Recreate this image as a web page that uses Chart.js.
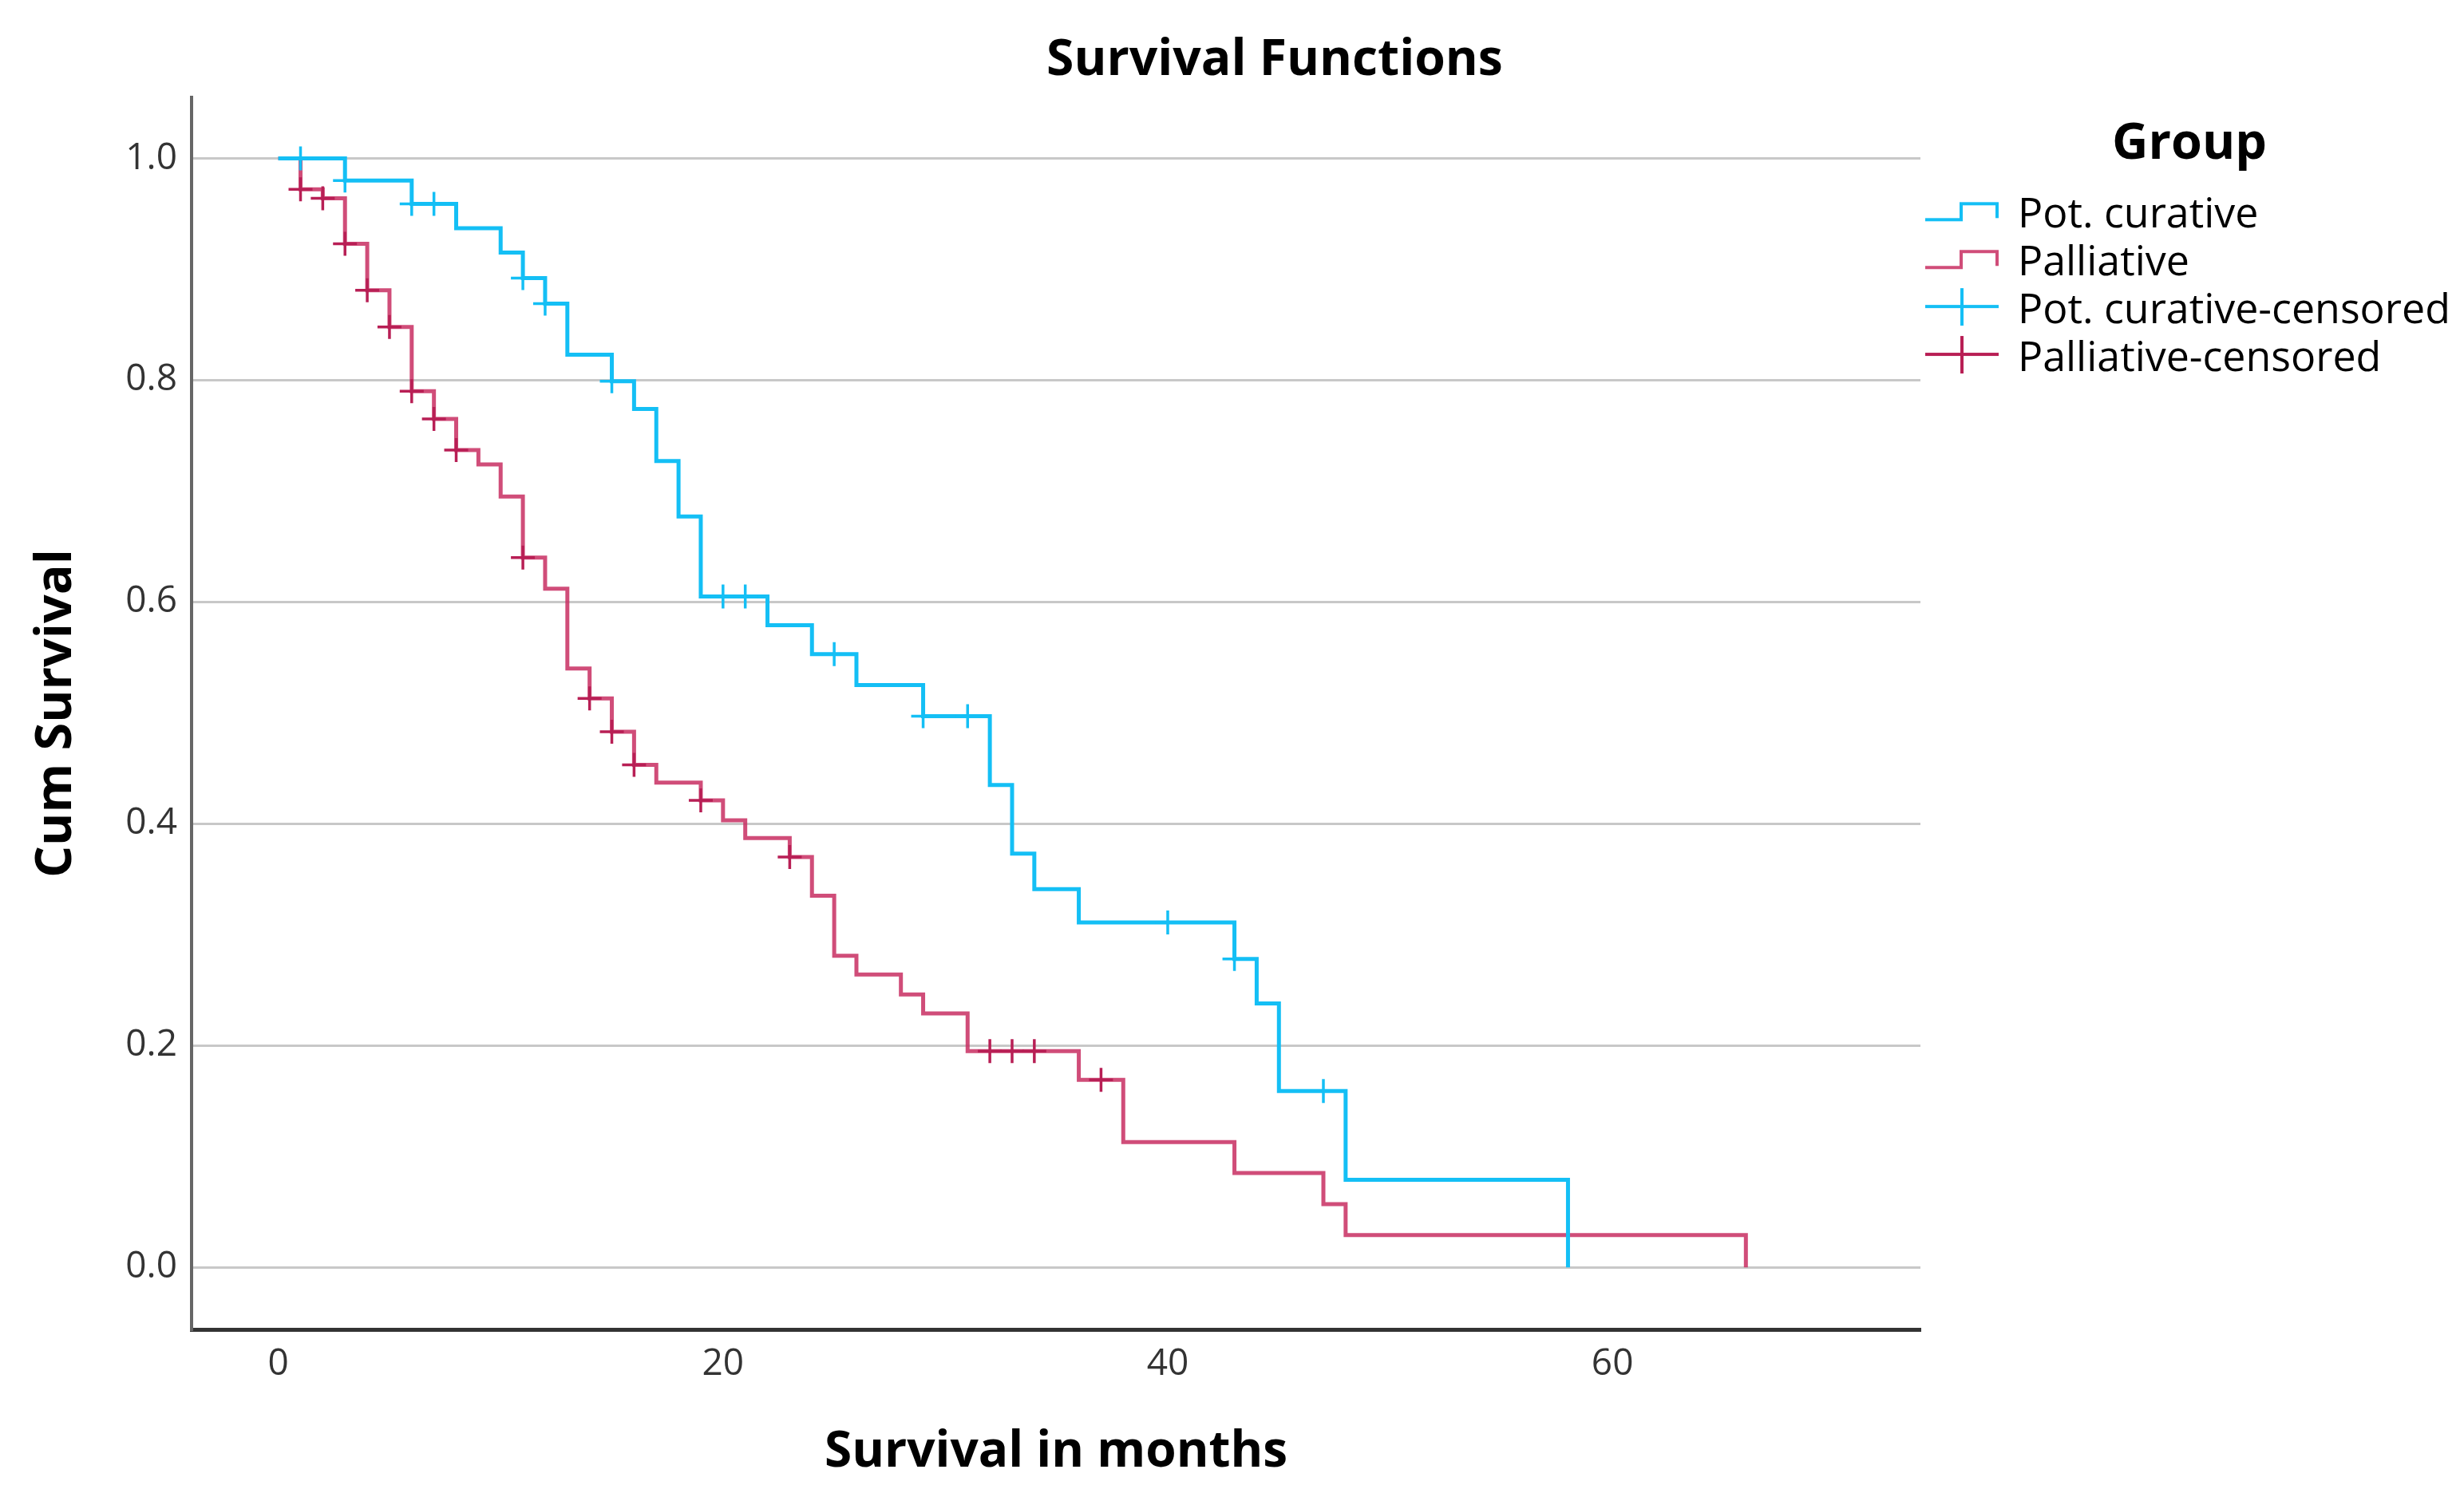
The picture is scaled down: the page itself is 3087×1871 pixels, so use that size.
<!DOCTYPE html>
<html>
<head>
<meta charset="utf-8">
<script src="https://cdn.jsdelivr.net/npm/chart.js@4.4.1/dist/chart.umd.min.js"></script>
<style>
  html, body { margin: 0; padding: 0; background: #fff; }
  #wrap { width: 3087px; height: 1871px; }
</style>
</head>
<body>
<div id="wrap"><canvas id="km"></canvas></div>
<script>
const groupLabels = ['Pot. curative', 'Palliative', 'Pot. curative-censored', 'Palliative-censored'];

// Kaplan-Meier steps (months, cumulative survival)
const curativeTimes = [0, 3, 6, 8, 10, 11, 12, 13, 15, 16, 17, 18, 19, 22, 24, 26, 29, 32, 33, 34, 36, 43, 44, 45, 48, 58];
const curativeSurv = [1.0, 0.980, 0.959, 0.937, 0.915, 0.892, 0.869, 0.823, 0.799, 0.774, 0.727, 0.677, 0.605, 0.579, 0.553, 0.525, 0.497, 0.435, 0.373, 0.341, 0.311, 0.278, 0.238, 0.159, 0.079, 0.0];

const palliativeTimes = [0, 1, 2, 3, 4, 5, 6, 7, 8, 9, 10, 11, 12, 13, 14, 15, 16, 17, 19, 20, 21, 23, 24, 25, 26, 28, 29, 31, 36, 38, 43, 47, 48, 66];
const palliativeSurv = [1.0, 0.972, 0.964, 0.923, 0.881, 0.848, 0.790, 0.765, 0.737, 0.724, 0.695, 0.640, 0.612, 0.540, 0.513, 0.483, 0.453, 0.437, 0.421, 0.403, 0.387, 0.370, 0.335, 0.281, 0.264, 0.246, 0.229, 0.195, 0.169, 0.113, 0.085, 0.057, 0.029, 0.0];

// censored cases
const curativeCensTimes = [1, 3, 6, 7, 11, 12, 15, 20, 21, 25, 29, 31, 40, 43, 47];
const curativeCensSurv = [1.0, 0.980, 0.959, 0.959, 0.892, 0.869, 0.799, 0.605, 0.605, 0.553, 0.497, 0.497, 0.311, 0.278, 0.159];

const palliativeCensTimes = [1, 2, 3, 4, 5, 6, 7, 8, 11, 14, 15, 16, 19, 23, 32, 33, 34, 37];
const palliativeCensSurv = [0.972, 0.964, 0.923, 0.881, 0.848, 0.790, 0.765, 0.737, 0.640, 0.513, 0.483, 0.453, 0.421, 0.370, 0.195, 0.195, 0.195, 0.169];

const xTicks = [0, 20, 40, 60];
const yTicks = [0.0, 0.2, 0.4, 0.6, 0.8, 1.0];

const FONT = '"Open Sans", "Noto Sans", sans-serif';
const blue = '#14bff5';
const red = 'rgba(200, 46, 98, 0.85)';
const redDark = '#b81f55';

// pick font sizes so the texts take the same width as in the picture
const measureCtx = document.createElement('canvas').getContext('2d');
function fitSize(text, weight, width) {
  measureCtx.font = weight + ' 100px ' + FONT;
  return Math.round(1000 * width / measureCtx.measureText(text).width) / 10;
}
const titleSize = fitSize('Survival Functions', 'bold', 572);
const xTitleSize = fitSize('Survival in months', 'bold', 580);
const yTitleSize = fitSize('Cum Survival', 'bold', 412);
const groupSize = fitSize('Group', 'bold', 194);
const labelSize = fitSize('Pot. curative-censored', 'normal', 542);
const tickSize = 46;

function toPoints(xs, ys) {
  return xs.map((x, i) => ({ x: x, y: ys[i] }));
}

function stepIcon(color) {
  const c = document.createElement('canvas');
  c.width = 92; c.height = 64;
  const g = c.getContext('2d');
  g.strokeStyle = color;
  g.lineWidth = 4;
  g.beginPath();
  g.moveTo(0, 37); g.lineTo(45, 37); g.lineTo(45, 17); g.lineTo(90, 17); g.lineTo(90, 35);
  g.stroke();
  return c;
}

function censorIcon(color) {
  const c = document.createElement('canvas');
  c.width = 92; c.height = 64;
  const g = c.getContext('2d');
  g.strokeStyle = color;
  g.lineWidth = 4;
  g.beginPath();
  g.moveTo(0, 26); g.lineTo(92, 26);
  g.moveTo(46, 3); g.lineTo(46, 50);
  g.stroke();
  return c;
}

const legendIcons = [stepIcon(blue), stepIcon(red), censorIcon(blue), censorIcon(redDark)];

// room left on the right once the legend is placed next to the plot
const legendPad = 8;
const legendBox = 88;
measureCtx.font = labelSize + 'px ' + FONT;
const legendWidth = legendPad + legendBox + labelSize / 2 + measureCtx.measureText(groupLabels[2]).width + 10;
const padRight = Math.max(0, 3087 - 2406 - legendWidth);

const titlePlugin = {
  id: 'kmTitle',
  afterDraw(chart) {
    const ctx = chart.ctx;
    ctx.save();
    ctx.font = 'bold ' + titleSize + 'px ' + FONT;
    ctx.fillStyle = '#000';
    ctx.textAlign = 'center';
    ctx.textBaseline = 'middle';
    ctx.fillText('Survival Functions', 1597, 76);
    ctx.restore();
  }
};

const ctx = document.getElementById('km').getContext('2d');
new Chart(ctx, {
  type: 'scatter',
  data: {
    datasets: [
      {
        type: 'line',
        label: groupLabels[0],
        data: toPoints(curativeTimes, curativeSurv),
        borderColor: blue,
        borderWidth: 5,
        stepped: true,
        fill: false,
        pointRadius: 0,
        order: 1
      },
      {
        type: 'line',
        label: groupLabels[1],
        data: toPoints(palliativeTimes, palliativeSurv),
        borderColor: red,
        borderWidth: 5,
        stepped: true,
        fill: false,
        pointRadius: 0,
        order: 1
      },
      {
        label: groupLabels[2],
        data: toPoints(curativeCensTimes, curativeCensSurv),
        pointStyle: 'cross',
        pointRadius: 15,
        borderColor: blue,
        borderWidth: 3.5,
        order: 0
      },
      {
        label: groupLabels[3],
        data: toPoints(palliativeCensTimes, palliativeCensSurv),
        pointStyle: 'cross',
        pointRadius: 15,
        borderColor: redDark,
        borderWidth: 3.5,
        order: 0
      }
    ]
  },
  options: {
    responsive: true,
    maintainAspectRatio: false,
    animation: false,
    layout: {
      padding: { top: 122, right: padRight, bottom: 0, left: 0 }
    },
    scales: {
      x: {
        type: 'linear',
        min: -3.9,
        max: 73.85,
        afterBuildTicks: scale => { scale.ticks = xTicks.map(v => ({ value: v })); },
        afterFit: scale => { scale.height = 205; },
        grid: { display: false, drawTicks: false },
        border: { color: '#333', width: 5 },
        ticks: {
          padding: 16,
          color: '#333',
          font: { family: FONT, size: tickSize }
        },
        title: {
          display: true,
          text: 'Survival in months',
          color: '#000',
          font: { family: FONT, size: xTitleSize, weight: 'bold' },
          padding: { top: 0, bottom: 51 - xTitleSize * 0.6 }
        }
      },
      y: {
        min: -0.056,
        max: 1.055,
        afterBuildTicks: scale => { scale.ticks = yTicks.map(v => ({ value: v })); },
        afterFit: scale => { scale.width = 240; },
        grid: { color: '#c8c8c8', lineWidth: 3, drawTicks: false },
        border: { color: '#666', width: 4 },
        ticks: {
          padding: 18,
          color: '#333',
          font: { family: FONT, size: tickSize },
          callback: v => v.toFixed(1)
        },
        title: {
          display: true,
          text: 'Cum Survival',
          color: '#000',
          font: { family: FONT, size: yTitleSize, weight: 'bold' },
          padding: { top: 71 - yTitleSize * 0.6, bottom: 0 }
        }
      }
    },
    plugins: {
      tooltip: { enabled: false },
      legend: {
        position: 'right',
        align: 'start',
        fullSize: false,
        title: {
          display: true,
          text: 'Group',
          color: '#000',
          font: { family: FONT, size: groupSize, weight: 'bold' },
          padding: { top: 28, bottom: 11 }
        },
        labels: {
          usePointStyle: true,
          pointStyleWidth: legendBox,
          padding: legendPad,
          color: '#000',
          font: { family: FONT, size: labelSize, lineHeight: 1 },
          sort: (a, b) => a.datasetIndex - b.datasetIndex,
          generateLabels: chart => Chart.defaults.plugins.legend.labels.generateLabels(chart)
            .map(item => Object.assign(item, { pointStyle: legendIcons[item.datasetIndex] }))
        }
      }
    }
  },
  plugins: [titlePlugin]
});
</script>
</body>
</html>
